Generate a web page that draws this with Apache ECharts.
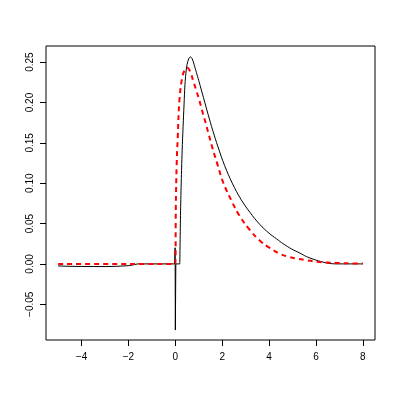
<!DOCTYPE html>
<html><head><meta charset="utf-8">
<script src="https://cdn.jsdelivr.net/npm/echarts@6/dist/echarts.min.js"></script>
<style>html,body{margin:0;padding:0;background:#fff}#c{width:399px;height:399px}</style>
</head><body><div id="c"></div>
<script>
// Black solid curve: [x, y]
var blackCurve = [
  [-5, -0.0025], [-4.5, -0.003], [-4, -0.0032], [-3.5, -0.0033], [-3, -0.0033],
  [-2.5, -0.003], [-2, -0.0022], [-1.8, -0.0012], [-1.6, 0], [-1, 0], [-0.03, 0],
  [-0.01, 0.02], [0, -0.082], [0.02, 0], [0.19, 0], [0.22, 0.06], [0.25, 0.10],
  [0.29, 0.14], [0.33, 0.17], [0.37, 0.197], [0.41, 0.222], [0.45, 0.236],
  [0.50, 0.247], [0.57, 0.254], [0.64, 0.2565], [0.72, 0.254], [0.80, 0.247],
  [0.9, 0.237], [1.0, 0.227], [1.2, 0.206], [1.4, 0.185], [1.6, 0.165],
  [1.82, 0.145], [2.1, 0.122], [2.43, 0.100], [2.8, 0.080], [3.18, 0.064],
  [3.6, 0.049], [4.0, 0.038], [4.32, 0.031], [4.6, 0.025], [4.96, 0.0185],
  [5.32, 0.0133], [5.6, 0.009], [5.89, 0.0058], [6.2, 0.003], [6.6, 0.0005],
  [7, 0], [8, 0]
];
// Red dashed curve: [x, y]
var redCurve = [
  [-5, 0], [-2, 0], [0, 0], [0.02, 0.07], [0.056, 0.123], [0.10, 0.156],
  [0.18, 0.205], [0.30, 0.232], [0.4, 0.240], [0.51, 0.243], [0.65, 0.237],
  [0.77, 0.226], [0.87, 0.217], [1.0, 0.205], [1.18, 0.186], [1.3, 0.174],
  [1.4, 0.163], [1.6, 0.142], [1.8, 0.123], [2.04, 0.101], [2.4, 0.078],
  [2.75, 0.059], [3.18, 0.042], [3.6, 0.029], [4.04, 0.0195], [4.46, 0.0125],
  [4.8, 0.009], [5.18, 0.0065], [5.6, 0.0045], [5.89, 0.0033], [6.3, 0.002],
  [6.6, 0.0015], [7, 0.001], [7.5, 0.0006], [8, 0.0004]
];
var xTicks = [-4, -2, 0, 2, 4, 6, 8];
var yTicks = [-0.05, 0, 0.05, 0.10, 0.15, 0.20, 0.25];
var riseStart = 0.19; // x where the black curve's smooth part begins

function fmtMinus(s){ return s.replace('-', '\u2212'); }

var blackLeft = blackCurve.filter(function(p){ return p[0] <= riseStart; });
var blackRight = blackCurve.filter(function(p){ return p[0] >= riseStart; });

var chart = echarts.init(document.getElementById('c'), null, {renderer: 'canvas'});
chart.setOption({
  animation: false,
  backgroundColor: '#fff',
  grid: {left: 46, right: 24, top: 46, bottom: 59, show: true, borderColor: '#000', borderWidth: 1, backgroundColor: 'transparent'},
  xAxis: {
    type: 'value', min: -5.52, max: 8.52,
    axisLine: {show: false, onZero: false},
    splitLine: {show: false},
    axisTick: {show: true, inside: false, length: 6, lineStyle: {color: '#000'}, customValues: xTicks},
    axisLabel: {show: true, margin: 12, fontSize: 10, fontFamily: 'Liberation Sans, Arial, sans-serif', color: '#000',
      customValues: xTicks, formatter: function(v){ return fmtMinus(String(v)); }}
  },
  yAxis: {
    type: 'value', min: -0.0943, max: 0.270,
    axisLine: {show: false, onZero: false},
    splitLine: {show: false},
    axisTick: {show: true, inside: false, length: 6, lineStyle: {color: '#000'}, customValues: yTicks},
    axisLabel: {show: true, margin: 11, fontSize: 10, rotate: 90, fontFamily: 'Liberation Sans, Arial, sans-serif', color: '#000',
      customValues: yTicks, formatter: function(v){ return fmtMinus(v.toFixed(2)); }}
  },
  series: [
    {type: 'line', data: blackLeft, showSymbol: false, symbol: 'none', smooth: false,
     lineStyle: {color: '#000', width: 1}, z: 2},
    {type: 'line', data: blackRight, showSymbol: false, symbol: 'none', smooth: 0.4,
     lineStyle: {color: '#000', width: 1}, z: 2},
    {type: 'line', data: redCurve, showSymbol: false, symbol: 'none', smooth: 0.4,
     lineStyle: {color: '#ff0000', width: 2, type: [5, 4]}, z: 3}
  ]
});
</script></body></html>
